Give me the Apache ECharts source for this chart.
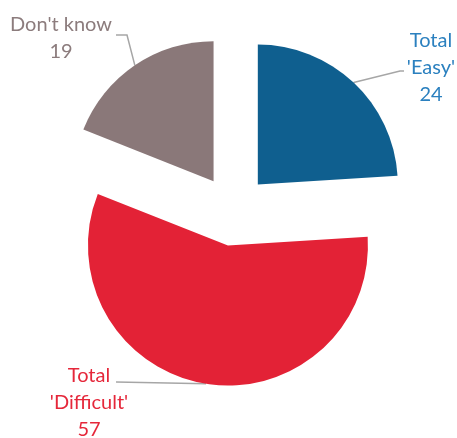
<!DOCTYPE html>
<html>
<head>
<meta charset="utf-8">
<script src="https://cdn.jsdelivr.net/npm/echarts@6/dist/echarts.min.js"></script>
<style>
  html, body { margin: 0; padding: 0; background: #ffffff; }
  #chart { width: 457px; height: 438px; }
</style>
</head>
<body>
<div id="chart"></div>
<script>
// Answer categories and their shares (%)
const categories = ["Total\n'Easy'", "Total\n'Difficult'", "Don't know"];
const values = [24, 57, 19];

// Slice fill and label text colours
const sliceColors = ['#0f5f8f', '#e32236', '#8a7879'];
const labelColors = ['#2b80bf', '#e5273a', '#8c7c7d'];

// Pie geometry: centre before explosion, radius, and how far each slice is pulled out
const CX = 233.5, CY = 210.5, R = 140, OFFSET = 35.5;

// Label anchors (centre of text block) and the bend points of each leader line
const labelAnchors = [
  { x: 431, y: 68,  line: [[400, 71], [404, 71]] },
  { x: 89,  y: 403, line: [[116, 382]] },
  { x: 61,  y: 38,  line: [[127, 35], [116, 35]] }
];

const total = values.reduce((a, b) => a + b, 0);

// Each slice is drawn by its own pie series so it can be shifted along its mid-angle
const series = values.map((v, i) => {
  const before = values.slice(0, i).reduce((a, b) => a + b, 0);
  const midDeg = (before + v / 2) / total * 360;
  const mid = midDeg * Math.PI / 180;
  const center = [CX + OFFSET * Math.sin(mid), CY - OFFSET * Math.cos(mid)];
  return {
    type: 'pie',
    silent: true,
    center: center,
    radius: [0, R],
    startAngle: 90,
    clockwise: true,
    avoidLabelOverlap: false,
    animation: false,
    emphasis: { disabled: true },
    label: {
      formatter: '{b}\n{c}',
      fontFamily: 'Lato',
      fontSize: 20,
      lineHeight: 27,
      overflow: 'none'
    },
    labelLine: {
      lineStyle: { color: '#a6a6a6', width: 1.5 }
    },
    labelLayout: function (params) {
      const a = labelAnchors[params.dataIndex];
      const pts = [params.labelLinePoints ? params.labelLinePoints[0] : [a.x, a.y]].concat(a.line);
      return {
        x: a.x,
        y: a.y,
        align: 'center',
        verticalAlign: 'middle',
        labelLinePoints: pts
      };
    },
    data: values.map((val, j) => ({
      value: val,
      name: categories[j],
      itemStyle: { color: j === i ? sliceColors[j] : 'rgba(0,0,0,0)' },
      label: { show: j === i, color: labelColors[j] },
      labelLine: { show: j === i }
    }))
  };
});

const chart = echarts.init(document.getElementById('chart'), null, { renderer: 'canvas' });
chart.setOption({
  backgroundColor: '#ffffff',
  series: series
});
</script>
</body>
</html>
